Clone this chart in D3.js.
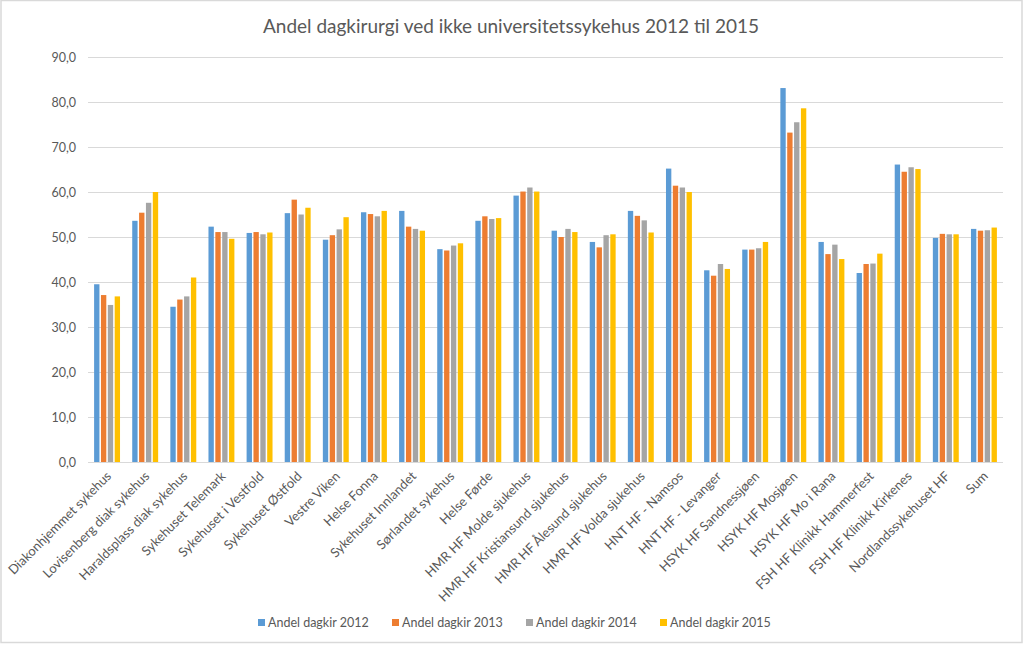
<!DOCTYPE html>
<html>
<head>
<meta charset="utf-8">
<script src="https://cdn.jsdelivr.net/npm/d3@7"></script>
<style>
  html, body { margin: 0; padding: 0; background: #fff; }
  svg text { font-family: Lato, "Open Sans", sans-serif; fill: #595959; }
</style>
</head>
<body>
<svg id="chart" width="1024" height="646"></svg>
<script>
const categories = [
  "Diakonhjemmet sykehus", "Lovisenberg diak sykehus", "Haraldsplass diak sykehus",
  "Sykehuset Telemark", "Sykehuset i Vestfold", "Sykehuset Østfold", "Vestre Viken",
  "Helse Fonna", "Sykehuset Innlandet", "Sørlandet sykehus", "Helse Førde",
  "HMR HF Molde sjukehus", "HMR HF Kristiansund sjukehus", "HMR HF Ålesund sjukehus",
  "HMR HF Volda sjukehus", "HNT HF -  Namsos", "HNT HF -  Levanger",
  "HSYK HF Sandnessjøen", "HSYK HF Mosjøen", "HSYK HF Mo i Rana",
  "FSH HF Klinikk Hammerfest", "FSH HF Klinikk Kirkenes", "Nordlandssykehuset HF", "Sum"
];
const seriesNames = ["Andel dagkir 2012", "Andel dagkir 2013", "Andel dagkir 2014", "Andel dagkir 2015"];
const values2012 = [39.5, 53.6, 34.5, 52.3, 50.9, 55.3, 49.4, 55.5, 55.8, 47.3, 53.6, 59.2, 51.4, 48.9, 55.8, 65.2, 42.6, 47.2, 83.1, 48.9, 42.0, 66.1, 49.8, 51.8];
const values2013 = [37.1, 55.4, 36.1, 51.1, 51.1, 58.3, 50.4, 55.1, 52.3, 47.0, 54.6, 60.1, 50.0, 47.7, 54.7, 61.4, 41.4, 47.2, 73.2, 46.2, 44.0, 64.5, 50.7, 51.4];
const values2014 = [34.9, 57.6, 36.8, 51.1, 50.6, 55.0, 51.7, 54.6, 51.8, 48.1, 54.0, 61.0, 51.8, 50.4, 53.7, 61.0, 44.0, 47.5, 75.5, 48.3, 44.1, 65.5, 50.6, 51.5];
const values2015 = [36.8, 60.0, 41.0, 49.6, 51.0, 56.5, 54.4, 55.8, 51.4, 48.6, 54.2, 60.1, 51.1, 50.6, 51.0, 60.0, 42.9, 48.9, 78.6, 45.1, 46.3, 65.1, 50.6, 52.1];
const yTicks = [0, 10, 20, 30, 40, 50, 60, 70, 80, 90];
const colors = ["#5B9BD5", "#ED7D31", "#A5A5A5", "#FFC000"];
const titleText = "Andel dagkirurgi ved ikke universitetssykehus 2012 til 2015";

const allSeries = [values2012, values2013, values2014, values2015];
const data = categories.map((c, i) => ({ cat: c, vals: allSeries.map(s => s[i]) }));

const svg = d3.select("#chart");
const plotLeft = 88, plotRight = 1003, plotTop = 57, plotBottom = 462;

// chart border
svg.append("rect").attr("x", 1).attr("y", 0.5).attr("width", 1021).attr("height", 642)
  .attr("fill", "none").attr("stroke", "#D9D9D9").attr("stroke-width", 1.5);

const x0 = d3.scaleBand().domain(categories).range([plotLeft, plotRight]).paddingInner(0.32).paddingOuter(0.16);
const x1 = d3.scaleBand().domain(d3.range(4)).range([0, x0.bandwidth()]).paddingInner(0.22);
const y = d3.scaleLinear().domain([0, 90]).range([plotBottom, plotTop]);

// gridlines
svg.append("g").selectAll("line").data(yTicks).join("line")
  .attr("x1", plotLeft).attr("x2", plotRight)
  .attr("y1", d => Math.round(y(d)) + 0.5).attr("y2", d => Math.round(y(d)) + 0.5)
  .attr("stroke", "#D9D9D9").attr("stroke-width", 1);

// y axis labels
const yAxis = d3.axisLeft(y).tickValues(yTicks).tickSize(0).tickPadding(0)
  .tickFormat(d => d3.format(".1f")(d).replace(".", ","));
const yg = svg.append("g").attr("transform", `translate(${plotLeft - 12},0)`).call(yAxis);
yg.select(".domain").remove();
yg.selectAll("text").attr("font-size", "12.5px").attr("fill", "#595959").style("font-family", "Lato, sans-serif");

// bars
const groups = svg.append("g").selectAll("g").data(data).join("g")
  .attr("transform", d => `translate(${x0(d.cat)},0)`);
groups.selectAll("rect").data(d => d.vals.map((v, k) => ({ v, k }))).join("rect")
  .attr("x", d => x1(d.k))
  .attr("width", x1.bandwidth())
  .attr("y", d => y(d.v))
  .attr("height", d => y(0) - y(d.v))
  .attr("fill", d => colors[d.k]);

// x axis labels
const xAxis = d3.axisBottom(x0).tickSize(0).tickPadding(0);
const xg = svg.append("g").attr("transform", `translate(0,${plotBottom})`).call(xAxis);
xg.select(".domain").remove();
xg.selectAll("text")
  .attr("font-size", "13px").attr("fill", "#595959").style("font-family", "Lato, sans-serif")
  .attr("text-anchor", "end")
  .attr("x", 0).attr("y", 0).attr("dy", "0")
  .attr("transform", "translate(5,15) rotate(-45)");

// title
svg.append("text").attr("x", 511).attr("y", 33).attr("text-anchor", "middle")
  .attr("font-size", "19px").attr("fill", "#595959").text(titleText);

// legend
const legendX = [258, 392, 526, 660];
const lg = svg.append("g").selectAll("g").data(seriesNames).join("g")
  .attr("transform", (d, i) => `translate(${legendX[i]},623)`);
lg.append("rect").attr("x", 0).attr("y", -4).attr("width", 7).attr("height", 7).attr("fill", (d, i) => colors[i]);
lg.append("text").attr("x", 10).attr("y", 0).attr("dy", "0.35em")
  .attr("font-size", "12.5px").attr("fill", "#595959").text(d => d);
</script>
</body>
</html>
